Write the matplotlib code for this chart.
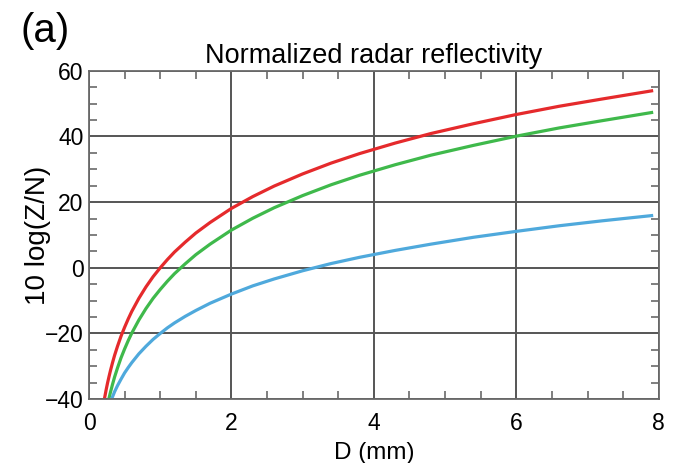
import matplotlib
matplotlib.use("Agg")
import matplotlib.pyplot as plt
from matplotlib.ticker import MultipleLocator

plt.rcParams['font.family'] = ['Liberation Sans', 'DejaVu Sans']

# values
diam = [0.2, 0.22, 0.24, 0.26, 0.28, 0.3, 0.33, 0.36, 0.4, 0.45, 0.5, 0.55, 0.6,
        0.7, 0.8, 0.9, 1.0, 1.1, 1.2, 1.35, 1.5, 1.7, 2.0, 2.3, 2.6, 3.0, 3.4,
        3.8, 4.3, 4.8, 5.4, 6.0, 6.6, 7.2, 7.9]
red_vals = [-41.9, -39.5, -37.2, -35.1, -33.2, -31.4, -28.9, -26.6, -23.9, -20.8, -18.1,
            -15.6, -13.3, -9.3, -5.8, -2.7, 0.0, 2.5, 4.8, 7.8, 10.6, 13.8, 18.1, 21.7,
            24.9, 28.6, 31.9, 34.8, 38.0, 40.9, 43.9, 46.7, 49.2, 51.4, 53.9]
green_vals = [-48.5, -46.1, -43.8, -41.7, -39.8, -38.0, -35.5, -33.2, -30.5, -27.4, -24.7,
              -22.2, -19.9, -15.9, -12.4, -9.3, -6.6, -4.1, -1.8, 1.2, 4.0, 7.2, 11.5, 15.1,
              18.3, 22.0, 25.3, 28.2, 31.4, 34.3, 37.3, 40.1, 42.6, 44.8, 47.3]
blue_vals = [-48.0, -46.3, -44.8, -43.4, -42.1, -40.9, -39.3, -37.7, -35.9, -33.9, -32.0,
             -30.4, -28.9, -26.2, -23.9, -21.8, -20.0, -18.3, -16.8, -14.8, -13.0, -10.8,
             -8.0, -5.5, -3.4, -0.9, 1.3, 3.2, 5.3, 7.2, 9.3, 11.1, 12.8, 14.3, 15.9]

fig = plt.figure(figsize=(6.77, 4.63), dpi=100)
ax = fig.add_axes([0.1315, 0.138, 0.8415, 0.709])

ax.plot(diam, red_vals, color="#e52a2c", lw=2.3)
ax.plot(diam, green_vals, color="#3fb94b", lw=2.3)
ax.plot(diam, blue_vals, color="#4fa9dc", lw=2.3)

ax.set_xlim(0, 8)
ax.set_ylim(-40, 60)
ax.xaxis.set_major_locator(MultipleLocator(2))
ax.xaxis.set_minor_locator(MultipleLocator(0.5))
ax.set_yticks([-40, -20, 0, 20, 40, 60])
ax.set_yticklabels([str(v).replace("-", "\u2212") for v in [-40, -20, 0, 20, 40, 60]])
ax.yaxis.set_minor_locator(MultipleLocator(5))

ax.grid(True, which="major", color="#555555", lw=1.4)
ax.set_axisbelow(True)
for s in ax.spines.values():
    s.set_color("#6a6a6a")
    s.set_linewidth(1.3)

ax.tick_params(which="both", direction="in", top=True, right=True,
               color="#6a6a6a", labelsize=16.5)
ax.tick_params(which="major", length=0)
ax.tick_params(axis="x", which="major", pad=9)
ax.tick_params(axis="y", which="major", pad=4)
ax.tick_params(which="minor", length=5.5, width=1.2)

ax.set_title("Normalized radar reflectivity", fontsize=19.5, pad=6)
ax.set_xlabel("D (mm)", fontsize=17.5)
ax.set_ylabel("10 log(Z/N)", fontsize=20)
ax.xaxis.label.set_va("center")
ax.yaxis.label.set_va("center")
ax.xaxis.set_label_coords(0.5, -0.163)
ax.yaxis.set_label_coords(-0.09, 0.5)
fig.text(0.03, 0.975, "(a)", fontsize=29, va="top", ha="left")

fig.savefig("out.png", dpi=100)
